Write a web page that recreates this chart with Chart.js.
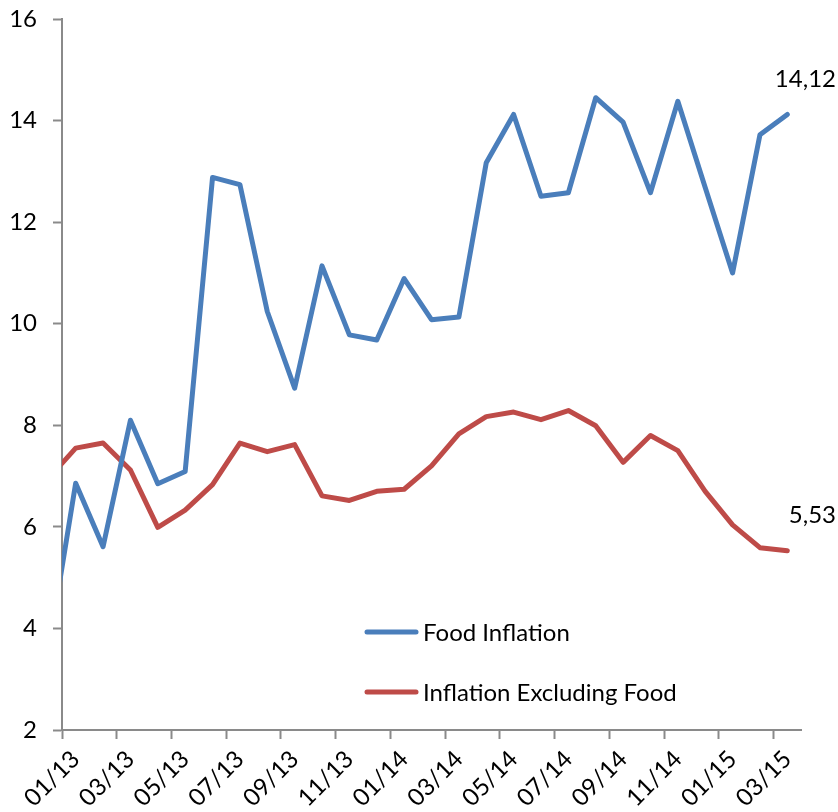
<!DOCTYPE html>
<html>
<head>
<meta charset="utf-8">
<script src="https://cdn.jsdelivr.net/npm/chart.js@4.4.1/dist/chart.umd.min.js"></script>
<style>
  html, body { margin: 0; padding: 0; background: #fff; }
  #wrap { width: 838px; height: 812px; position: relative; }
</style>
</head>
<body>
<div id="wrap"><canvas id="c" width="838" height="812"></canvas></div>
<script>
// Categories (first one lies just before the visible range; the line enters from the axis)
const categories = ['12/12','01/13','02/13','03/13','04/13','05/13','06/13','07/13','08/13','09/13','10/13','11/13','12/13',
  '01/14','02/14','03/14','04/14','05/14','06/14','07/14','08/14','09/14','10/14','11/14','12/14',
  '01/15','02/15','03/15'];
const foodInflation = [3.54, 6.86, 5.61, 8.10, 6.85, 7.09, 12.88, 12.74, 10.24, 8.73, 11.14, 9.78, 9.68,
  10.89, 10.08, 10.13, 13.17, 14.12, 12.51, 12.58, 14.45, 13.97, 12.58, 14.38, 12.68,
  11.00, 13.72, 14.12];
const inflationExFood = [6.95, 7.55, 7.65, 7.12, 5.99, 6.33, 6.83, 7.65, 7.48, 7.62, 6.61, 6.52, 6.70,
  6.74, 7.20, 7.83, 8.17, 8.26, 8.11, 8.29, 7.99, 7.27, 7.80, 7.50, 6.70,
  6.04, 5.59, 5.53];
const seriesNames = ['Food Inflation', 'Inflation Excluding Food'];
const yTicks = [2, 4, 6, 8, 10, 12, 14, 16];

const BLUE = '#4a7ebb';
const RED = '#be4b48';
const AXIS = '#8a8a8a';
const FONT = 'Lato';
const FSIZE = 24;

const endLabels = {
  id: 'endLabels',
  afterDatasetsDraw(chart) {
    const ctx = chart.ctx;
    ctx.save();
    ctx.font = FSIZE + 'px ' + FONT;
    ctx.fillStyle = '#000';
    ctx.textAlign = 'right';
    ctx.textBaseline = 'middle';
    chart.data.datasets.forEach((ds, i) => {
      const meta = chart.getDatasetMeta(i);
      const pt = meta.data[meta.data.length - 1];
      const v = ds.data[ds.data.length - 1];
      ctx.fillText(v.toFixed(2).replace('.', ','), chart.width - 2, pt.y - 35);
    });
    ctx.restore();
  }
};

const innerLegend = {
  id: 'innerLegend',
  afterDraw(chart) {
    const ctx = chart.ctx;
    ctx.save();
    ctx.font = FSIZE + 'px ' + FONT;
    ctx.textAlign = 'left';
    ctx.textBaseline = 'middle';
    const rows = [632, 692];
    chart.data.datasets.forEach((ds, i) => {
      const y = rows[i];
      ctx.strokeStyle = ds.borderColor;
      ctx.lineWidth = 5;
      ctx.lineCap = 'round';
      ctx.beginPath();
      ctx.moveTo(367, y);
      ctx.lineTo(416, y);
      ctx.stroke();
      ctx.fillStyle = '#000';
      ctx.fillText(ds.label, 423, y + 1);
    });
    ctx.restore();
  }
};

new Chart(document.getElementById('c'), {
  type: 'line',
  data: {
    labels: categories,
    datasets: [
      { label: seriesNames[0], data: foodInflation, borderColor: BLUE, backgroundColor: BLUE,
        borderWidth: 5, pointRadius: 0, borderJoinStyle: 'round', borderCapStyle: 'round', tension: 0, clip: 0 },
      { label: seriesNames[1], data: inflationExFood, borderColor: RED, backgroundColor: RED,
        borderWidth: 5, pointRadius: 0, borderJoinStyle: 'round', borderCapStyle: 'round', tension: 0, clip: 0 }
    ]
  },
  options: {
    responsive: false,
    animation: false,
    devicePixelRatio: 1,
    layout: { autoPadding: false, padding: { top: 19, right: 37, bottom: 0, left: 0 } },
    plugins: { legend: { display: false }, tooltip: { enabled: false } },
    scales: {
      x: {
        type: 'category',
        min: '01/13',
        max: '03/15',
        offset: true,
        grid: {
          offset: true,
          drawOnChartArea: false,
          tickLength: 9,
          tickWidth: 2,
          tickColor: (c) => (typeof c.index === 'number' && c.index % 2 === 0) ? AXIS : 'rgba(0,0,0,0)'
        },
        border: { color: AXIS, width: 2 },
        ticks: {
          autoSkip: false,
          minRotation: 45,
          maxRotation: 45,
          padding: 6,
          color: '#000',
          font: { family: FONT, size: FSIZE },
          callback: function(value, index) { return index % 2 === 0 ? this.getLabelForValue(value) : ''; }
        },
        afterFit(scale) { scale.height = 82; scale.paddingLeft = 0; scale.paddingRight = 0; }
      },
      y: {
        min: 2,
        max: 16,
        afterBuildTicks(scale) { scale.ticks = yTicks.map(v => ({ value: v })); },
        grid: { drawOnChartArea: false, tickLength: 9, tickWidth: 2, tickColor: AXIS },
        border: { color: AXIS, width: 2 },
        ticks: { color: '#000', padding: 16, font: { family: FONT, size: FSIZE } },
        afterFit(scale) { scale.width = 62; scale.paddingTop = 0; scale.paddingBottom = 0; }
      }
    }
  },
  plugins: [endLabels, innerLegend]
});
</script>
</body>
</html>
